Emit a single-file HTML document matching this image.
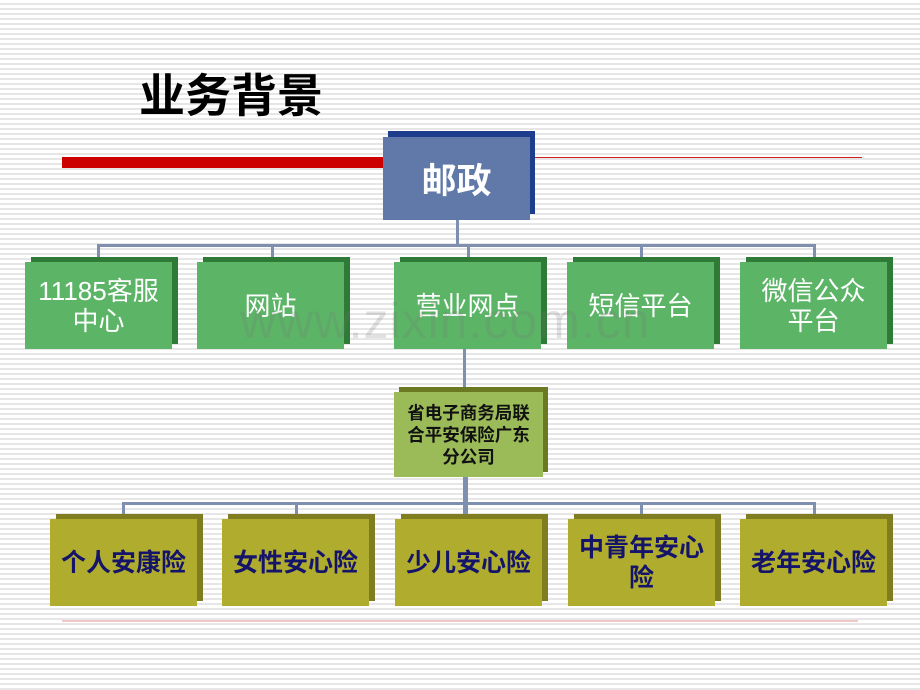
<!DOCTYPE html>
<html><head><meta charset="utf-8"><style>
*{margin:0;padding:0;box-sizing:border-box}
body{width:920px;height:690px;position:relative;overflow:hidden;
background:repeating-linear-gradient(to bottom,#ffffff 0px,#ffffff 3px,#e6e6e6 3px,#e6e6e6 5px);
font-family:"Liberation Sans","Noto Sans CJK SC",sans-serif}
.a{position:absolute}
.box{position:absolute;display:flex;align-items:center;justify-content:center;text-align:center}
.g{background:#5cb567;box-shadow:6px -5px 0 #2f7a36;color:#fff;font-size:26px;line-height:30px;height:87px;width:147px;top:262px}
.y{background:#b0ac2e;box-shadow:6px -5px 0 #7f7d1f;color:#14146a;font-size:25px;font-weight:bold;line-height:30px;height:87px;width:147px;top:519px}
.l{position:absolute;background:#7e8fb0}
</style></head><body>
<div class="a" style="left:139px;top:70px;font-size:46px;font-weight:bold;color:#000;line-height:52px">业务背景</div>
<div class="a" style="left:62px;top:157px;width:322px;height:11px;background:#cc0000"></div>
<div class="a" style="left:530px;top:157px;width:332px;height:1px;background:#d02020"></div>
<div class="box" style="left:383px;top:137px;width:147px;height:83px;background:#6079a8;box-shadow:5px -6px 0 #1c3e8c;color:#fff;font-size:35px;font-weight:bold">邮政</div>
<div class="l" style="left:456px;top:220px;width:3px;height:26px"></div>
<div class="l" style="left:97px;top:244px;width:719px;height:3px"></div>
<div class="l" style="left:97px;top:244px;width:3px;height:18px"></div>
<div class="l" style="left:271px;top:244px;width:3px;height:18px"></div>
<div class="l" style="left:467px;top:244px;width:3px;height:18px"></div>
<div class="l" style="left:640px;top:244px;width:3px;height:18px"></div>
<div class="l" style="left:813px;top:244px;width:3px;height:18px"></div>
<div class="box g" style="left:25px">11185客服<br>中心</div>
<div class="box g" style="left:197px">网站</div>
<div class="box g" style="left:394px">营业网点</div>
<div class="box g" style="left:567px">短信平台</div>
<div class="box g" style="left:740px">微信公众<br>平台</div>
<div class="a" style="left:240px;top:292px;font-size:50px;color:rgba(120,120,120,0.22);font-family:'Liberation Sans',sans-serif;letter-spacing:1px">www.zixin.com.cn</div>
<div class="l" style="left:463px;top:349px;width:3px;height:44px"></div>
<div class="box" style="left:394px;top:392px;width:149px;height:85px;background:#9bbb59;box-shadow:5px -5px 0 #6b7a22;color:#111;font-size:17.5px;font-weight:bold;line-height:22px">省电子商务局联<br>合平安保险广东<br>分公司</div>
<div class="l" style="left:463px;top:477px;width:5px;height:42px"></div>
<div class="l" style="left:122px;top:502px;width:694px;height:3px"></div>
<div class="l" style="left:122px;top:502px;width:3px;height:17px"></div>
<div class="l" style="left:295px;top:502px;width:3px;height:17px"></div>
<div class="l" style="left:640px;top:502px;width:3px;height:17px"></div>
<div class="l" style="left:813px;top:502px;width:3px;height:17px"></div>
<div class="box y" style="left:50px">个人安康险</div>
<div class="box y" style="left:222px">女性安心险</div>
<div class="box y" style="left:395px">少儿安心险</div>
<div class="box y" style="left:568px">中青年安心<br>险</div>
<div class="box y" style="left:740px">老年安心险</div>
<div class="a" style="left:62px;top:620px;width:796px;height:2px;background:#f0c8c8"></div>
</body></html>
